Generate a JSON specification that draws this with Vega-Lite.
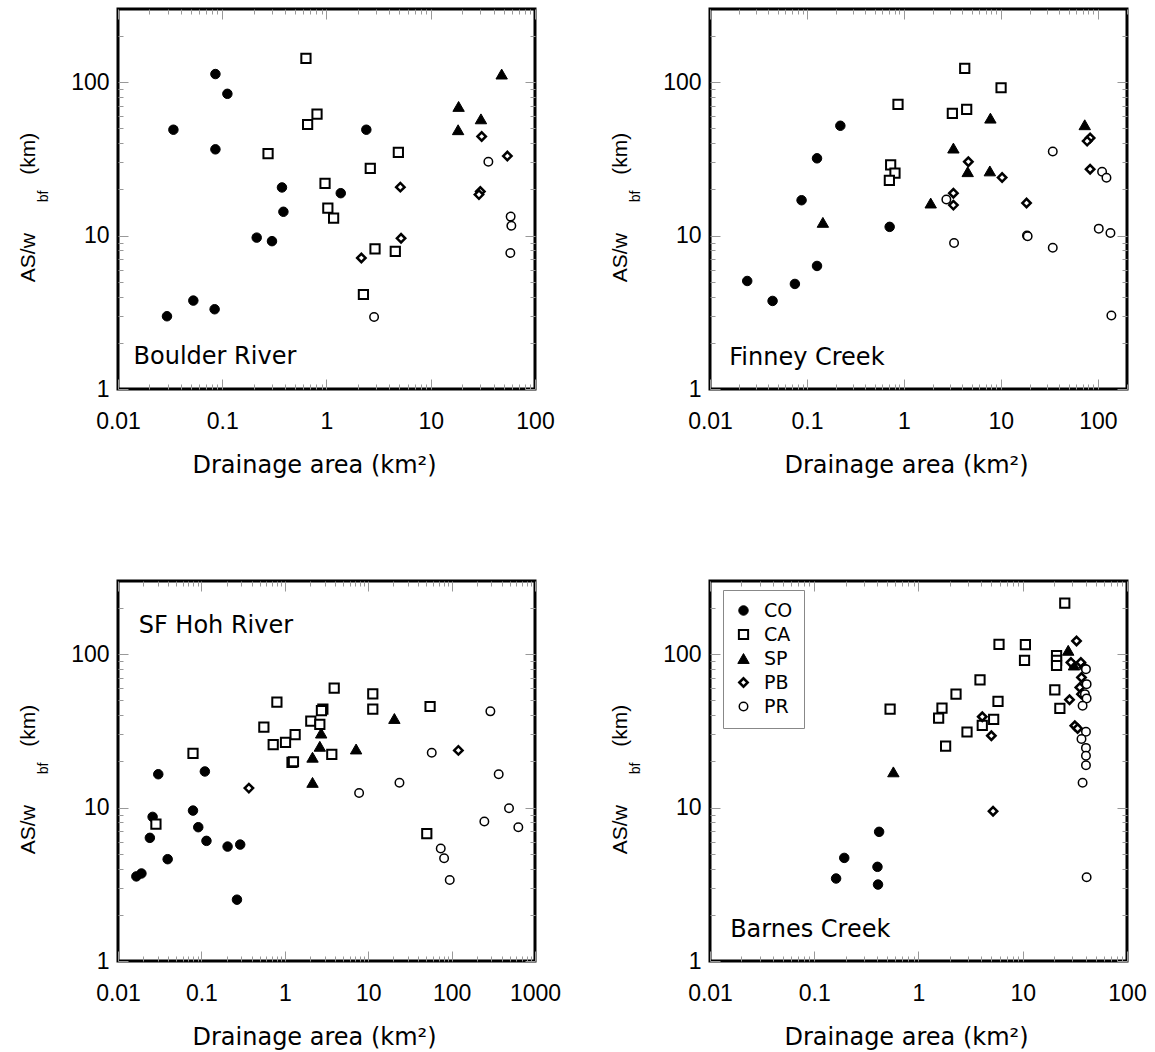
{
  "$schema": "https://vega.github.io/schema/vega-lite/v6.json",
  "padding": {"left": 15, "top": 7, "right": 5, "bottom": 5},
  "config": {
    "view": {"stroke": "black", "strokeWidth": 3},
    "axis": {"grid": false, "domain": false, "tickColor": "#999999", "tickWidth": 1, "labelFont": "Liberation Sans", "labelFontSize": 23, "labelColor": "black", "titleFont": "DejaVu Sans", "titleFontSize": 24, "titleFontWeight": "normal", "titleColor": "black", "labelOverlap": false, "labelFlush": false},
    "text": {"font": "DejaVu Sans", "fontSize": 24, "color": "black"},
    "legend": {"orient": "none", "legendX": 13, "legendY": 9, "strokeColor": "#888888", "padding": 11, "rowPadding": 4, "labelOffset": 11, "labelFont": "DejaVu Sans", "labelFontSize": 19, "labelColor": "black", "symbolStrokeColor": "black"}
  },
  "datasets": {
    "boulder": [
      {"area": 0.086, "ratio": 113, "type": "CO"}, {"area": 0.112, "ratio": 84, "type": "CO"}, {"area": 0.034, "ratio": 49, "type": "CO"}, {"area": 0.086, "ratio": 36.5, "type": "CO"}, {"area": 2.41, "ratio": 49, "type": "CO"}, {"area": 0.374, "ratio": 20.6, "type": "CO"}, {"area": 1.37, "ratio": 18.9, "type": "CO"}, {"area": 0.386, "ratio": 14.3, "type": "CO"}, {"area": 0.214, "ratio": 9.7, "type": "CO"}, {"area": 0.30, "ratio": 9.2, "type": "CO"}, {"area": 0.0295, "ratio": 2.98, "type": "CO"}, {"area": 0.0528, "ratio": 3.77, "type": "CO"}, {"area": 0.0845, "ratio": 3.31, "type": "CO"},
      {"area": 0.635, "ratio": 143, "type": "CA"}, {"area": 0.811, "ratio": 62, "type": "CA"}, {"area": 0.659, "ratio": 53, "type": "CA"}, {"area": 0.275, "ratio": 34.2, "type": "CA"}, {"area": 4.89, "ratio": 34.9, "type": "CA"}, {"area": 2.63, "ratio": 27.4, "type": "CA"}, {"area": 0.968, "ratio": 21.9, "type": "CA"}, {"area": 1.03, "ratio": 15.1, "type": "CA"}, {"area": 1.17, "ratio": 13, "type": "CA"}, {"area": 2.92, "ratio": 8.2, "type": "CA"}, {"area": 4.57, "ratio": 7.9, "type": "CA"}, {"area": 2.26, "ratio": 4.13, "type": "CA"},
      {"area": 47.9, "ratio": 113, "type": "SP"}, {"area": 18.5, "ratio": 69.5, "type": "SP"}, {"area": 30.3, "ratio": 57.7, "type": "SP"}, {"area": 18.3, "ratio": 49, "type": "SP"},
      {"area": 30.8, "ratio": 44.3, "type": "PB"}, {"area": 54.3, "ratio": 33, "type": "PB"}, {"area": 5.11, "ratio": 20.7, "type": "PB"}, {"area": 29.9, "ratio": 19.4, "type": "PB"}, {"area": 29.0, "ratio": 18.5, "type": "PB"}, {"area": 5.19, "ratio": 9.6, "type": "PB"}, {"area": 2.16, "ratio": 7.15, "type": "PB"},
      {"area": 35.7, "ratio": 30.3, "type": "PR"}, {"area": 58.4, "ratio": 13.3, "type": "PR"}, {"area": 59.3, "ratio": 11.6, "type": "PR"}, {"area": 58, "ratio": 7.7, "type": "PR"}, {"area": 2.86, "ratio": 2.95, "type": "PR"}
    ],
    "finney": [
      {"area": 0.221, "ratio": 52, "type": "CO"}, {"area": 0.127, "ratio": 31.9, "type": "CO"}, {"area": 0.088, "ratio": 17, "type": "CO"}, {"area": 0.713, "ratio": 11.4, "type": "CO"}, {"area": 0.127, "ratio": 6.34, "type": "CO"}, {"area": 0.0242, "ratio": 5.06, "type": "CO"}, {"area": 0.0751, "ratio": 4.84, "type": "CO"}, {"area": 0.0442, "ratio": 3.75, "type": "CO"},
      {"area": 4.24, "ratio": 123, "type": "CA"}, {"area": 10.05, "ratio": 92, "type": "CA"}, {"area": 0.869, "ratio": 71.6, "type": "CA"}, {"area": 4.44, "ratio": 66.4, "type": "CA"}, {"area": 3.16, "ratio": 62.6, "type": "CA"}, {"area": 0.73, "ratio": 28.9, "type": "CA"}, {"area": 0.809, "ratio": 25.5, "type": "CA"}, {"area": 0.708, "ratio": 22.9, "type": "CA"},
      {"area": 7.8, "ratio": 58.3, "type": "SP"}, {"area": 73.3, "ratio": 52.8, "type": "SP"}, {"area": 3.24, "ratio": 37.2, "type": "SP"}, {"area": 4.55, "ratio": 26.1, "type": "SP"}, {"area": 7.7, "ratio": 26.4, "type": "SP"}, {"area": 1.89, "ratio": 16.3, "type": "SP"}, {"area": 0.146, "ratio": 12.2, "type": "SP"},
      {"area": 83.3, "ratio": 43.3, "type": "PB"}, {"area": 77.6, "ratio": 41.3, "type": "PB"}, {"area": 4.62, "ratio": 30.3, "type": "PB"}, {"area": 83.3, "ratio": 27.1, "type": "PB"}, {"area": 10.3, "ratio": 23.9, "type": "PB"}, {"area": 3.24, "ratio": 18.9, "type": "PB"}, {"area": 3.24, "ratio": 15.8, "type": "PB"}, {"area": 18.4, "ratio": 16.3, "type": "PB"},
      {"area": 34.3, "ratio": 35.3, "type": "PR"}, {"area": 110.7, "ratio": 26.1, "type": "PR"}, {"area": 122.8, "ratio": 23.8, "type": "PR"}, {"area": 2.74, "ratio": 17.2, "type": "PR"}, {"area": 18.6, "ratio": 10.0, "type": "PR"}, {"area": 18.9, "ratio": 9.9, "type": "PR"}, {"area": 102.3, "ratio": 11.1, "type": "PR"}, {"area": 135, "ratio": 10.4, "type": "PR"}, {"area": 3.29, "ratio": 8.94, "type": "PR"}, {"area": 34.3, "ratio": 8.34, "type": "PR"}, {"area": 138, "ratio": 3.01, "type": "PR"}
    ],
    "hoh": [
      {"area": 0.0304, "ratio": 16.5, "type": "CO"}, {"area": 0.110, "ratio": 17.2, "type": "CO"}, {"area": 0.0793, "ratio": 9.56, "type": "CO"}, {"area": 0.026, "ratio": 8.7, "type": "CO"}, {"area": 0.0917, "ratio": 7.45, "type": "CO"}, {"area": 0.0241, "ratio": 6.35, "type": "CO"}, {"area": 0.115, "ratio": 6.07, "type": "CO"}, {"area": 0.206, "ratio": 5.57, "type": "CO"}, {"area": 0.292, "ratio": 5.74, "type": "CO"}, {"area": 0.0394, "ratio": 4.61, "type": "CO"}, {"area": 0.0191, "ratio": 3.72, "type": "CO"}, {"area": 0.0166, "ratio": 3.56, "type": "CO"}, {"area": 0.267, "ratio": 2.51, "type": "CO"},
      {"area": 3.91, "ratio": 60.1, "type": "CA"}, {"area": 11.35, "ratio": 55.2, "type": "CA"}, {"area": 0.804, "ratio": 48.7, "type": "CA"}, {"area": 55.2, "ratio": 45.6, "type": "CA"}, {"area": 11.35, "ratio": 43.9, "type": "CA"}, {"area": 2.86, "ratio": 43.9, "type": "CA"}, {"area": 2.75, "ratio": 42.8, "type": "CA"}, {"area": 2.05, "ratio": 36.6, "type": "CA"}, {"area": 2.63, "ratio": 34.9, "type": "CA"}, {"area": 0.561, "ratio": 33.5, "type": "CA"}, {"area": 1.33, "ratio": 29.9, "type": "CA"}, {"area": 1.02, "ratio": 26.6, "type": "CA"}, {"area": 0.726, "ratio": 25.7, "type": "CA"}, {"area": 3.66, "ratio": 22.2, "type": "CA"}, {"area": 1.22, "ratio": 19.7, "type": "CA"}, {"area": 1.27, "ratio": 19.9, "type": "CA"}, {"area": 0.0793, "ratio": 22.6, "type": "CA"}, {"area": 0.0285, "ratio": 7.79, "type": "CA"}, {"area": 50.4, "ratio": 6.77, "type": "CA"},
      {"area": 20.6, "ratio": 38.1, "type": "SP"}, {"area": 2.73, "ratio": 30.6, "type": "SP"}, {"area": 2.63, "ratio": 25.1, "type": "SP"}, {"area": 7.16, "ratio": 24.1, "type": "SP"}, {"area": 2.15, "ratio": 21.3, "type": "SP"}, {"area": 2.15, "ratio": 14.6, "type": "SP"},
      {"area": 120.6, "ratio": 23.6, "type": "PB"}, {"area": 0.371, "ratio": 13.4, "type": "PB"},
      {"area": 291.7, "ratio": 42.4, "type": "PR"}, {"area": 57.8, "ratio": 22.8, "type": "PR"}, {"area": 367, "ratio": 16.5, "type": "PR"}, {"area": 23.7, "ratio": 14.5, "type": "PR"}, {"area": 7.78, "ratio": 12.45, "type": "PR"}, {"area": 488, "ratio": 9.9, "type": "PR"}, {"area": 247, "ratio": 8.11, "type": "PR"}, {"area": 631, "ratio": 7.45, "type": "PR"}, {"area": 74.1, "ratio": 5.41, "type": "PR"}, {"area": 81.3, "ratio": 4.68, "type": "PR"}, {"area": 95, "ratio": 3.37, "type": "PR"}
    ],
    "barnes": [
      {"area": 0.419, "ratio": 6.95, "type": "CO"}, {"area": 0.194, "ratio": 4.70, "type": "CO"}, {"area": 0.404, "ratio": 4.11, "type": "CO"}, {"area": 0.162, "ratio": 3.45, "type": "CO"}, {"area": 0.409, "ratio": 3.15, "type": "CO"},
      {"area": 25.3, "ratio": 215, "type": "CA"}, {"area": 5.92, "ratio": 116, "type": "CA"}, {"area": 10.6, "ratio": 115.6, "type": "CA"}, {"area": 10.4, "ratio": 91, "type": "CA"}, {"area": 21.1, "ratio": 98, "type": "CA"}, {"area": 21.1, "ratio": 91, "type": "CA"}, {"area": 21.1, "ratio": 84.4, "type": "CA"}, {"area": 3.89, "ratio": 68.1, "type": "CA"}, {"area": 20.3, "ratio": 58.6, "type": "CA"}, {"area": 2.29, "ratio": 54.9, "type": "CA"}, {"area": 5.79, "ratio": 49.2, "type": "CA"}, {"area": 0.534, "ratio": 43.9, "type": "CA"}, {"area": 1.68, "ratio": 44.5, "type": "CA"}, {"area": 22.7, "ratio": 44.3, "type": "CA"}, {"area": 1.56, "ratio": 38.3, "type": "CA"}, {"area": 5.26, "ratio": 37.6, "type": "CA"}, {"area": 4.09, "ratio": 34.3, "type": "CA"}, {"area": 2.92, "ratio": 31.1, "type": "CA"}, {"area": 1.82, "ratio": 25.2, "type": "CA"},
      {"area": 0.574, "ratio": 17.1, "type": "SP"}, {"area": 27.3, "ratio": 106, "type": "SP"}, {"area": 31, "ratio": 85, "type": "SP"},
      {"area": 32.8, "ratio": 122, "type": "PB"}, {"area": 29, "ratio": 88.3, "type": "PB"}, {"area": 36.1, "ratio": 88.3, "type": "PB"}, {"area": 38.9, "ratio": 81.9, "type": "PB"}, {"area": 36.6, "ratio": 70.5, "type": "PB"}, {"area": 35.3, "ratio": 60.7, "type": "PB"}, {"area": 36.6, "ratio": 54.9, "type": "PB"}, {"area": 28.1, "ratio": 50.5, "type": "PB"}, {"area": 31.6, "ratio": 34.2, "type": "PB"}, {"area": 33.6, "ratio": 32.8, "type": "PB"}, {"area": 4.09, "ratio": 39.1, "type": "PB"}, {"area": 5.0, "ratio": 29.4, "type": "PB"}, {"area": 5.19, "ratio": 9.47, "type": "PB"},
      {"area": 40.4, "ratio": 79.9, "type": "PR"}, {"area": 41, "ratio": 63.8, "type": "PR"}, {"area": 39.5, "ratio": 54.9, "type": "PR"}, {"area": 41, "ratio": 51.5, "type": "PR"}, {"area": 37.5, "ratio": 46.1, "type": "PR"}, {"area": 40.4, "ratio": 31.2, "type": "PR"}, {"area": 36.6, "ratio": 28, "type": "PR"}, {"area": 40.4, "ratio": 24.5, "type": "PR"}, {"area": 40.4, "ratio": 21.8, "type": "PR"}, {"area": 40.4, "ratio": 18.9, "type": "PR"}, {"area": 37.5, "ratio": 14.5, "type": "PR"}, {"area": 41, "ratio": 3.52, "type": "PR"}
    ]
  },
  "columns": 2,
  "spacing": {"row": 192, "column": 175},
  "bounds": "flush",
  "resolve": {"scale": {"shape": "independent", "fill": "independent", "stroke": "independent", "size": "independent", "strokeWidth": "independent"}},
  "concat": [
    {
      "width": 417, "height": 380,
      "layer": [
        {
          "data": {"name": "boulder"},
          "mark": {"type": "point", "filled": true, "stroke": "black", "opacity": 1},
          "encoding": {
            "x": {"field": "area", "type": "quantitative", "scale": {"type": "log", "domain": [0.01, 100], "nice": false}, "axis": {"orient": "bottom", "values": [0.01,0.02,0.03,0.04,0.05,0.06,0.07,0.08,0.09,0.1,0.2,0.3,0.4,0.5,0.6,0.7,0.8,0.9,1,2,3,4,5,6,7,8,9,10,20,30,40,50,60,70,80,90,100], "labelExpr": "abs(log(datum.value)/LN10 - round(log(datum.value)/LN10)) < 0.001 ? format(datum.value, '~g') : ''", "tickSize": {"condition": {"test": "abs(log(datum.value)/LN10 - round(log(datum.value)/LN10)) < 0.001", "value": -10}, "value": -5}, "labelPadding": 31, "title": "Drainage area (km²)", "titlePadding": 15, "titleX": 196}},
            "y": {"field": "ratio", "type": "quantitative", "scale": {"type": "log", "domain": [1, 300], "nice": false}, "axis": {"orient": "left", "values": [1,2,3,4,5,6,7,8,9,10,20,30,40,50,60,70,80,90,100,200], "labelExpr": "abs(log(datum.value)/LN10 - round(log(datum.value)/LN10)) < 0.001 ? format(datum.value, '~g') : ''", "tickSize": {"condition": {"test": "abs(log(datum.value)/LN10 - round(log(datum.value)/LN10)) < 0.001", "value": -10}, "value": -5}, "labelPadding": 19, "title": "AS/w\u00a0\u00a0\u00a0\u00a0\u00a0\u00a0\u00a0\u00a0\u00a0\u00a0(km)", "titleFont": "Liberation Sans", "titleFontSize": 21, "titleX": -84, "titleY": 198, "titleAlign": "center", "titleBaseline": "alphabetic", "titleAngle": -90}},
            "shape": {"field": "type", "type": "nominal", "scale": {"domain": ["CO","CA","SP","PB","PR"], "range": ["circle","square","triangle-up","diamond","circle"]}, "legend": null},
            "fill": {"field": "type", "type": "nominal", "scale": {"domain": ["CO","CA","SP","PB","PR"], "range": ["black","white","black","white","white"]}, "legend": null},
            "size": {"field": "type", "type": "nominal", "scale": {"type": "ordinal", "domain": ["CO","CA","SP","PB","PR"], "range": [90,85,130,70,72]}, "legend": null},
            "strokeWidth": {"field": "type", "type": "nominal", "scale": {"type": "ordinal", "domain": ["CO","CA","SP","PB","PR"], "range": [1,2,1,2.5,1.5]}, "legend": null}
          }
        },
        {
          "data": {"values": [{}]},
          "mark": {"type": "text", "align": "left", "baseline": "alphabetic"},
          "encoding": {
            "x": {"datum": 0.0141, "type": "quantitative", "scale": {"type": "log", "domain": [0.01, 100], "nice": false}, "axis": {"orient": "top", "values": [0.01,0.02,0.03,0.04,0.05,0.06,0.07,0.08,0.09,0.1,0.2,0.3,0.4,0.5,0.6,0.7,0.8,0.9,1,2,3,4,5,6,7,8,9,10,20,30,40,50,60,70,80,90,100], "labels": false, "title": null, "tickSize": {"condition": {"test": "abs(log(datum.value)/LN10 - round(log(datum.value)/LN10)) < 0.001", "value": -10}, "value": -5}}},
            "y": {"datum": 1.445, "type": "quantitative", "scale": {"type": "log", "domain": [1, 300], "nice": false}, "axis": {"orient": "right", "values": [1,2,3,4,5,6,7,8,9,10,20,30,40,50,60,70,80,90,100,200], "labels": false, "title": null, "tickSize": {"condition": {"test": "abs(log(datum.value)/LN10 - round(log(datum.value)/LN10)) < 0.001", "value": -10}, "value": -5}}},
            "text": {"value": "Boulder River"}
          }
        },
        {
          "data": {"values": [{}]},
          "mark": {"type": "text"},
          "encoding": {
            "y": {"datum": 10, "type": "quantitative", "scale": {"type": "log", "domain": [1, 300], "nice": false}, "axis": {"orient": "left", "labels": false, "ticks": false, "domain": false, "title": "bf", "titleFont": "Liberation Sans", "titleFontSize": 14, "titleX": -71, "titleY": 187, "titleAlign": "center", "titleBaseline": "alphabetic", "titleAngle": -90}},
            "text": {"value": ""}
          }
        }
      ],
      "resolve": {"scale": {"x": "independent", "y": "independent"}}
    },
    {
      "width": 417, "height": 380,
      "layer": [
        {
          "data": {"name": "finney"},
          "mark": {"type": "point", "filled": true, "stroke": "black", "opacity": 1},
          "encoding": {
            "x": {"field": "area", "type": "quantitative", "scale": {"type": "log", "domain": [0.01, 200], "nice": false}, "axis": {"orient": "bottom", "values": [0.01,0.02,0.03,0.04,0.05,0.06,0.07,0.08,0.09,0.1,0.2,0.3,0.4,0.5,0.6,0.7,0.8,0.9,1,2,3,4,5,6,7,8,9,10,20,30,40,50,60,70,80,90,100,200], "labelExpr": "abs(log(datum.value)/LN10 - round(log(datum.value)/LN10)) < 0.001 ? format(datum.value, '~g') : ''", "tickSize": {"condition": {"test": "abs(log(datum.value)/LN10 - round(log(datum.value)/LN10)) < 0.001", "value": -10}, "value": -5}, "labelPadding": 31, "title": "Drainage area (km²)", "titlePadding": 15, "titleX": 196}},
            "y": {"field": "ratio", "type": "quantitative", "scale": {"type": "log", "domain": [1, 300], "nice": false}, "axis": {"orient": "left", "values": [1,2,3,4,5,6,7,8,9,10,20,30,40,50,60,70,80,90,100,200], "labelExpr": "abs(log(datum.value)/LN10 - round(log(datum.value)/LN10)) < 0.001 ? format(datum.value, '~g') : ''", "tickSize": {"condition": {"test": "abs(log(datum.value)/LN10 - round(log(datum.value)/LN10)) < 0.001", "value": -10}, "value": -5}, "labelPadding": 19, "title": "AS/w\u00a0\u00a0\u00a0\u00a0\u00a0\u00a0\u00a0\u00a0\u00a0\u00a0(km)", "titleFont": "Liberation Sans", "titleFontSize": 21, "titleX": -84, "titleY": 198, "titleAlign": "center", "titleBaseline": "alphabetic", "titleAngle": -90}},
            "shape": {"field": "type", "type": "nominal", "scale": {"domain": ["CO","CA","SP","PB","PR"], "range": ["circle","square","triangle-up","diamond","circle"]}, "legend": null},
            "fill": {"field": "type", "type": "nominal", "scale": {"domain": ["CO","CA","SP","PB","PR"], "range": ["black","white","black","white","white"]}, "legend": null},
            "size": {"field": "type", "type": "nominal", "scale": {"type": "ordinal", "domain": ["CO","CA","SP","PB","PR"], "range": [90,85,130,70,72]}, "legend": null},
            "strokeWidth": {"field": "type", "type": "nominal", "scale": {"type": "ordinal", "domain": ["CO","CA","SP","PB","PR"], "range": [1,2,1,2.5,1.5]}, "legend": null}
          }
        },
        {
          "data": {"values": [{}]},
          "mark": {"type": "text", "align": "left", "baseline": "alphabetic"},
          "encoding": {
            "x": {"datum": 0.0158, "type": "quantitative", "scale": {"type": "log", "domain": [0.01, 200], "nice": false}, "axis": {"orient": "top", "values": [0.01,0.02,0.03,0.04,0.05,0.06,0.07,0.08,0.09,0.1,0.2,0.3,0.4,0.5,0.6,0.7,0.8,0.9,1,2,3,4,5,6,7,8,9,10,20,30,40,50,60,70,80,90,100,200], "labels": false, "title": null, "tickSize": {"condition": {"test": "abs(log(datum.value)/LN10 - round(log(datum.value)/LN10)) < 0.001", "value": -10}, "value": -5}}},
            "y": {"datum": 1.43, "type": "quantitative", "scale": {"type": "log", "domain": [1, 300], "nice": false}, "axis": {"orient": "right", "values": [1,2,3,4,5,6,7,8,9,10,20,30,40,50,60,70,80,90,100,200], "labels": false, "title": null, "tickSize": {"condition": {"test": "abs(log(datum.value)/LN10 - round(log(datum.value)/LN10)) < 0.001", "value": -10}, "value": -5}}},
            "text": {"value": "Finney Creek"}
          }
        },
        {
          "data": {"values": [{}]},
          "mark": {"type": "text"},
          "encoding": {
            "y": {"datum": 10, "type": "quantitative", "scale": {"type": "log", "domain": [1, 300], "nice": false}, "axis": {"orient": "left", "labels": false, "ticks": false, "domain": false, "title": "bf", "titleFont": "Liberation Sans", "titleFontSize": 14, "titleX": -71, "titleY": 187, "titleAlign": "center", "titleBaseline": "alphabetic", "titleAngle": -90}},
            "text": {"value": ""}
          }
        }
      ],
      "resolve": {"scale": {"x": "independent", "y": "independent"}}
    },
    {
      "width": 417, "height": 380,
      "layer": [
        {
          "data": {"name": "hoh"},
          "mark": {"type": "point", "filled": true, "stroke": "black", "opacity": 1},
          "encoding": {
            "x": {"field": "area", "type": "quantitative", "scale": {"type": "log", "domain": [0.01, 1000], "nice": false}, "axis": {"orient": "bottom", "values": [0.01,0.02,0.03,0.04,0.05,0.06,0.07,0.08,0.09,0.1,0.2,0.3,0.4,0.5,0.6,0.7,0.8,0.9,1,2,3,4,5,6,7,8,9,10,20,30,40,50,60,70,80,90,100,200,300,400,500,600,700,800,900,1000], "labelExpr": "abs(log(datum.value)/LN10 - round(log(datum.value)/LN10)) < 0.001 ? format(datum.value, '~g') : ''", "tickSize": {"condition": {"test": "abs(log(datum.value)/LN10 - round(log(datum.value)/LN10)) < 0.001", "value": -10}, "value": -5}, "labelPadding": 31, "title": "Drainage area (km²)", "titlePadding": 15, "titleX": 196}},
            "y": {"field": "ratio", "type": "quantitative", "scale": {"type": "log", "domain": [1, 300], "nice": false}, "axis": {"orient": "left", "values": [1,2,3,4,5,6,7,8,9,10,20,30,40,50,60,70,80,90,100,200], "labelExpr": "abs(log(datum.value)/LN10 - round(log(datum.value)/LN10)) < 0.001 ? format(datum.value, '~g') : ''", "tickSize": {"condition": {"test": "abs(log(datum.value)/LN10 - round(log(datum.value)/LN10)) < 0.001", "value": -10}, "value": -5}, "labelPadding": 19, "title": "AS/w\u00a0\u00a0\u00a0\u00a0\u00a0\u00a0\u00a0\u00a0\u00a0\u00a0(km)", "titleFont": "Liberation Sans", "titleFontSize": 21, "titleX": -84, "titleY": 198, "titleAlign": "center", "titleBaseline": "alphabetic", "titleAngle": -90}},
            "shape": {"field": "type", "type": "nominal", "scale": {"domain": ["CO","CA","SP","PB","PR"], "range": ["circle","square","triangle-up","diamond","circle"]}, "legend": null},
            "fill": {"field": "type", "type": "nominal", "scale": {"domain": ["CO","CA","SP","PB","PR"], "range": ["black","white","black","white","white"]}, "legend": null},
            "size": {"field": "type", "type": "nominal", "scale": {"type": "ordinal", "domain": ["CO","CA","SP","PB","PR"], "range": [90,85,130,70,72]}, "legend": null},
            "strokeWidth": {"field": "type", "type": "nominal", "scale": {"type": "ordinal", "domain": ["CO","CA","SP","PB","PR"], "range": [1,2,1,2.5,1.5]}, "legend": null}
          }
        },
        {
          "data": {"values": [{}]},
          "mark": {"type": "text", "align": "left", "baseline": "alphabetic"},
          "encoding": {
            "x": {"datum": 0.0177, "type": "quantitative", "scale": {"type": "log", "domain": [0.01, 1000], "nice": false}, "axis": {"orient": "top", "values": [0.01,0.02,0.03,0.04,0.05,0.06,0.07,0.08,0.09,0.1,0.2,0.3,0.4,0.5,0.6,0.7,0.8,0.9,1,2,3,4,5,6,7,8,9,10,20,30,40,50,60,70,80,90,100,200,300,400,500,600,700,800,900,1000], "labels": false, "title": null, "tickSize": {"condition": {"test": "abs(log(datum.value)/LN10 - round(log(datum.value)/LN10)) < 0.001", "value": -10}, "value": -5}}},
            "y": {"datum": 138, "type": "quantitative", "scale": {"type": "log", "domain": [1, 300], "nice": false}, "axis": {"orient": "right", "values": [1,2,3,4,5,6,7,8,9,10,20,30,40,50,60,70,80,90,100,200], "labels": false, "title": null, "tickSize": {"condition": {"test": "abs(log(datum.value)/LN10 - round(log(datum.value)/LN10)) < 0.001", "value": -10}, "value": -5}}},
            "text": {"value": "SF Hoh River"}
          }
        },
        {
          "data": {"values": [{}]},
          "mark": {"type": "text"},
          "encoding": {
            "y": {"datum": 10, "type": "quantitative", "scale": {"type": "log", "domain": [1, 300], "nice": false}, "axis": {"orient": "left", "labels": false, "ticks": false, "domain": false, "title": "bf", "titleFont": "Liberation Sans", "titleFontSize": 14, "titleX": -71, "titleY": 187, "titleAlign": "center", "titleBaseline": "alphabetic", "titleAngle": -90}},
            "text": {"value": ""}
          }
        }
      ],
      "resolve": {"scale": {"x": "independent", "y": "independent"}}
    },
    {
      "width": 417, "height": 380,
      "layer": [
        {
          "data": {"name": "barnes"},
          "mark": {"type": "point", "filled": true, "opacity": 1},
          "encoding": {
            "x": {"field": "area", "type": "quantitative", "scale": {"type": "log", "domain": [0.01, 100], "nice": false}, "axis": {"orient": "bottom", "values": [0.01,0.02,0.03,0.04,0.05,0.06,0.07,0.08,0.09,0.1,0.2,0.3,0.4,0.5,0.6,0.7,0.8,0.9,1,2,3,4,5,6,7,8,9,10,20,30,40,50,60,70,80,90,100], "labelExpr": "abs(log(datum.value)/LN10 - round(log(datum.value)/LN10)) < 0.001 ? format(datum.value, '~g') : ''", "tickSize": {"condition": {"test": "abs(log(datum.value)/LN10 - round(log(datum.value)/LN10)) < 0.001", "value": -10}, "value": -5}, "labelPadding": 31, "title": "Drainage area (km²)", "titlePadding": 15, "titleX": 196}},
            "y": {"field": "ratio", "type": "quantitative", "scale": {"type": "log", "domain": [1, 300], "nice": false}, "axis": {"orient": "left", "values": [1,2,3,4,5,6,7,8,9,10,20,30,40,50,60,70,80,90,100,200], "labelExpr": "abs(log(datum.value)/LN10 - round(log(datum.value)/LN10)) < 0.001 ? format(datum.value, '~g') : ''", "tickSize": {"condition": {"test": "abs(log(datum.value)/LN10 - round(log(datum.value)/LN10)) < 0.001", "value": -10}, "value": -5}, "labelPadding": 19, "title": "AS/w\u00a0\u00a0\u00a0\u00a0\u00a0\u00a0\u00a0\u00a0\u00a0\u00a0(km)", "titleFont": "Liberation Sans", "titleFontSize": 21, "titleX": -84, "titleY": 198, "titleAlign": "center", "titleBaseline": "alphabetic", "titleAngle": -90}},
            "shape": {"field": "type", "type": "nominal", "scale": {"domain": ["CO","CA","SP","PB","PR"], "range": ["circle","square","triangle-up","diamond","circle"]}, "legend": {"title": null}},
            "fill": {"field": "type", "type": "nominal", "scale": {"domain": ["CO","CA","SP","PB","PR"], "range": ["black","white","black","white","white"]}, "legend": {"title": null}},
            "stroke": {"field": "type", "type": "nominal", "scale": {"domain": ["CO","CA","SP","PB","PR"], "range": ["black","black","black","black","black"]}, "legend": {"title": null}},
            "size": {"field": "type", "type": "nominal", "scale": {"type": "ordinal", "domain": ["CO","CA","SP","PB","PR"], "range": [90,85,130,70,72]}, "legend": {"title": null}},
            "strokeWidth": {"field": "type", "type": "nominal", "scale": {"type": "ordinal", "domain": ["CO","CA","SP","PB","PR"], "range": [1,2,1,2.5,1.5]}, "legend": {"title": null}}
          }
        },
        {
          "data": {"values": [{}]},
          "mark": {"type": "text", "align": "left", "baseline": "alphabetic"},
          "encoding": {
            "x": {"datum": 0.0156, "type": "quantitative", "scale": {"type": "log", "domain": [0.01, 100], "nice": false}, "axis": {"orient": "top", "values": [0.01,0.02,0.03,0.04,0.05,0.06,0.07,0.08,0.09,0.1,0.2,0.3,0.4,0.5,0.6,0.7,0.8,0.9,1,2,3,4,5,6,7,8,9,10,20,30,40,50,60,70,80,90,100], "labels": false, "title": null, "tickSize": {"condition": {"test": "abs(log(datum.value)/LN10 - round(log(datum.value)/LN10)) < 0.001", "value": -10}, "value": -5}}},
            "y": {"datum": 1.43, "type": "quantitative", "scale": {"type": "log", "domain": [1, 300], "nice": false}, "axis": {"orient": "right", "values": [1,2,3,4,5,6,7,8,9,10,20,30,40,50,60,70,80,90,100,200], "labels": false, "title": null, "tickSize": {"condition": {"test": "abs(log(datum.value)/LN10 - round(log(datum.value)/LN10)) < 0.001", "value": -10}, "value": -5}}},
            "text": {"value": "Barnes Creek"}
          }
        },
        {
          "data": {"values": [{}]},
          "mark": {"type": "text"},
          "encoding": {
            "y": {"datum": 10, "type": "quantitative", "scale": {"type": "log", "domain": [1, 300], "nice": false}, "axis": {"orient": "left", "labels": false, "ticks": false, "domain": false, "title": "bf", "titleFont": "Liberation Sans", "titleFontSize": 14, "titleX": -71, "titleY": 187, "titleAlign": "center", "titleBaseline": "alphabetic", "titleAngle": -90}},
            "text": {"value": ""}
          }
        }
      ],
      "resolve": {"scale": {"x": "independent", "y": "independent"}}
    }
  ]
}
